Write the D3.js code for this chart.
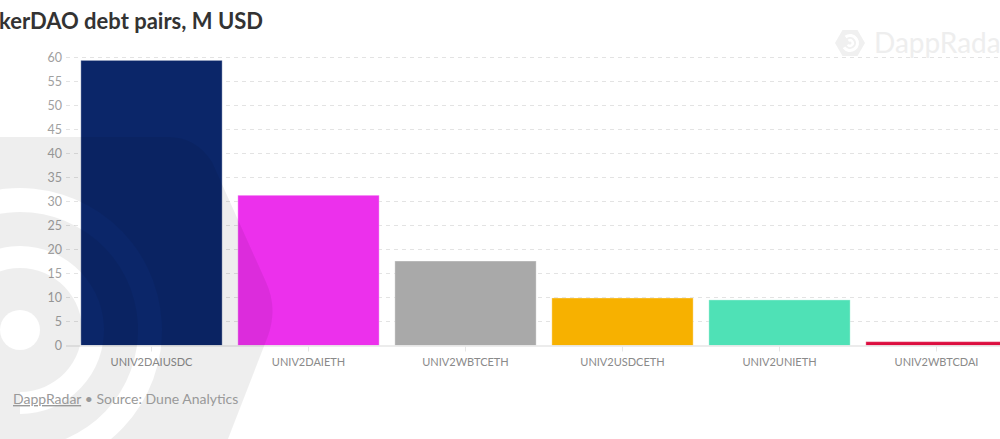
<!DOCTYPE html>
<html>
<head>
<meta charset="utf-8">
<script src="https://cdn.jsdelivr.net/npm/d3@7"></script>
<style>
  html, body { margin: 0; padding: 0; background: #fff; overflow: hidden; }
  svg { display: block; font-family: Lato, "Open Sans", sans-serif; }
</style>
</head>
<body>
<svg id="chart" width="1000" height="439"></svg>
<script>
const categories = ["UNIV2DAIUSDC", "UNIV2DAIETH", "UNIV2WBTCETH", "UNIV2USDCETH", "UNIV2UNIETH", "UNIV2WBTCDAI"];
const values = [59.4, 31.3, 17.6, 9.9, 9.5, 0.8];
const colors = ["#0b2669", "#ec30ec", "#a9a9a9", "#f7b100", "#4fe1b6", "#dc0d3f"];
const yTicks = [0, 5, 10, 15, 20, 25, 30, 35, 40, 45, 50, 55, 60];
const titleText = "MakerDAO debt pairs, M USD";

const svg = d3.select("#chart");
const W = 1000, H = 439;

const x = d3.scaleBand().domain(categories).range([73, 1015]).paddingInner(0.1).paddingOuter(0.05);
const y = d3.scaleLinear().domain([0, 60]).range([345.5, 57.5]);

// grid
const grid = svg.append("g");
grid.selectAll("line").data(yTicks.filter(d => d > 0)).join("line")
  .attr("x1", 66).attr("x2", W)
  .attr("y1", d => y(d)).attr("y2", d => y(d))
  .attr("stroke", "#e3e3e3").attr("stroke-width", 1).attr("stroke-dasharray", "4,4");

// y axis labels
const yAxis = d3.axisLeft(y).tickValues(yTicks).tickSize(0).tickPadding(0);
const gy = svg.append("g").attr("transform", "translate(62,0)").call(yAxis);
gy.select(".domain").remove();
gy.selectAll("text").attr("fill", "#a0a0a0").attr("font-size", 12.5).attr("font-family", "Lato, sans-serif");

// top-right watermark
const wm = svg.append("g").attr("transform", "translate(850,43)");
const hex = d3.range(6).map(i => { const a = Math.PI / 3 * i; return [15 * Math.cos(a), 15 * Math.sin(a)]; });
wm.append("path").attr("d", d3.line().curve(d3.curveLinearClosed)(hex)).attr("fill", "#f0f0f0");
wm.append("path").attr("d", d3.arc()({innerRadius: 6, outerRadius: 9, startAngle: -Math.PI * 0.2, endAngle: Math.PI * 1.3}))
  .attr("fill", "#fff");
wm.append("path").attr("d", d3.arc()({innerRadius: 1.5, outerRadius: 4, startAngle: -Math.PI * 0.2, endAngle: Math.PI * 1.3}))
  .attr("fill", "#fff");
wm.append("text").attr("x", 24).attr("y", 10).attr("font-size", 28).attr("font-weight", 400)
  .attr("font-family", "Lato, sans-serif").attr("fill", "#eeeeee").text("DappRadar");

// bars
svg.append("g").selectAll("rect").data(categories).join("rect")
  .attr("x", d => x(d)).attr("width", x.bandwidth())
  .attr("y", (d, i) => y(values[i])).attr("height", (d, i) => y(0) - y(values[i]))
  .attr("fill", (d, i) => colors[i])
  .attr("stroke", "rgba(255,255,255,0.35)").attr("stroke-width", 1);

// baseline
svg.append("line").attr("x1", 66).attr("x2", W).attr("y1", y(0) + 0.5).attr("y2", y(0) + 0.5)
  .attr("stroke", "#e6e6e6").attr("stroke-width", 1.5);

// x axis
const xAxis = d3.axisBottom(x).tickSize(5).tickPadding(7);
const gx = svg.append("g").attr("transform", `translate(0,${y(0) + 1})`).call(xAxis);
gx.select(".domain").remove();
gx.selectAll(".tick line").attr("stroke", "#e6e6e6");
gx.selectAll("text").attr("fill", "#8a8a8a").attr("font-size", 11).attr("font-family", "Lato, sans-serif");

// big watermark (overlay)
const defs = svg.append("defs");
const mask = defs.append("mask").attr("id", "wmask");
mask.append("rect").attr("x", 0).attr("y", 0).attr("width", W).attr("height", H).attr("fill", "#fff");
const cx = 20, cy = 330;
const ringArc = d3.arc();
[[62, 84], [118, 142]].forEach(([ri, ro]) => {
  mask.append("path").attr("transform", `translate(${cx},${cy})`)
    .attr("d", ringArc({innerRadius: ri, outerRadius: ro, startAngle: -Math.PI * 0.55, endAngle: Math.PI * 1.0}))
    .attr("fill", "#000");
});
mask.append("circle").attr("cx", cx).attr("cy", cy).attr("r", 20).attr("fill", "#000");
const bigHex = "M-10,137 L168,137 Q196,137 212,162 L266,282 Q278,308 268,336 L228,439 L-10,439 Z";
svg.append("path").attr("d", bigHex).attr("fill", "#000").attr("fill-opacity", 0.066).attr("mask", "url(#wmask)");

// title
const title = svg.append("text").attr("y", 29).attr("font-size", 22).attr("font-weight", 700)
  .attr("font-family", "Lato, sans-serif").attr("fill", "#333").text(titleText);
const tmp = svg.append("text").attr("font-size", 22).attr("font-weight", 700)
  .attr("font-family", "Lato, sans-serif").text("Ma");
const off = tmp.node().getComputedTextLength();
tmp.remove();
title.attr("x", -off - 1);

// footer
const foot = svg.append("text").attr("x", 13).attr("y", 404).attr("font-size", 14)
  .attr("font-family", "Lato, sans-serif").attr("fill", "#999");
foot.append("tspan").attr("text-decoration", "underline").text("DappRadar");
foot.append("tspan").text(" • Source: Dune Analytics");
</script>
</body>
</html>
